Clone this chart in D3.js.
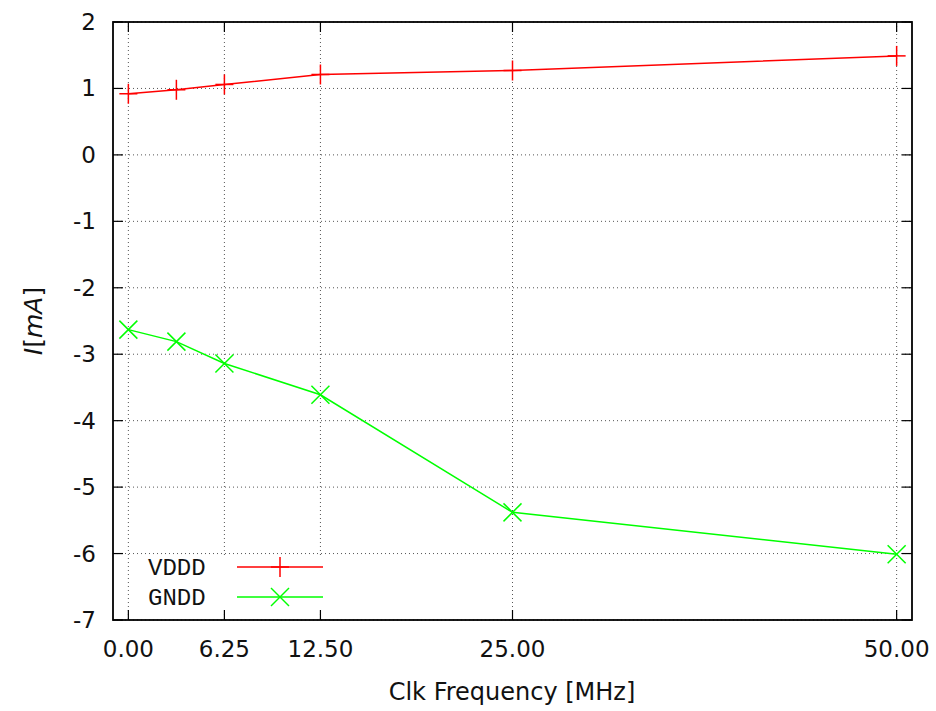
<!DOCTYPE html>
<html>
<head>
<meta charset="utf-8">
<script src="https://cdn.jsdelivr.net/npm/d3@7"></script>
<style>
  body { margin: 0; background: #fff; }
  text { font-family: "DejaVu Sans", sans-serif; fill: #111; }
</style>
</head>
<body>
<script>
// clock frequency in MHz
var freqs = [0, 3.125, 6.25, 12.5, 25, 50];
var vddd = [0.92, 0.98, 1.06, 1.21, 1.27, 1.49];
var gndd = [-2.63, -2.81, -3.14, -3.61, -5.38, -6.01];
var xTickVals = [0, 6.25, 12.5, 25, 50];
var yTickVals = [2, 1, 0, -1, -2, -3, -4, -5, -6, -7];
var seriesNames = ["VDDD", "GNDD"];

var W = 936, H = 711;
var pLeft = 113, pRight = 912, pTop = 22, pBottom = 620;

var svg = d3.select("body").append("svg")
  .attr("width", W)
  .attr("height", H);

var x = d3.scaleLinear().domain([-1, 51]).range([pLeft, pRight]);
var y = d3.scaleLinear().domain([-7, 2]).range([pBottom, pTop]);

// grid
var grid = svg.append("g");
grid.selectAll("line.gx")
    .data(xTickVals)
  .enter().append("line")
    .attr("x1", function(d) { return x(d); })
    .attr("x2", function(d) { return x(d); })
    .attr("y1", pTop).attr("y2", pBottom)
    .style("stroke", "#555").style("stroke-width", 1)
    .style("stroke-dasharray", "1,3");
grid.selectAll("line.gy")
    .data(yTickVals)
  .enter().append("line")
    .attr("x1", pLeft).attr("x2", pRight)
    .attr("y1", function(d) { return y(d); })
    .attr("y2", function(d) { return y(d); })
    .style("stroke", "#555").style("stroke-width", 1)
    .style("stroke-dasharray", "1,3");

// opaque legend box
svg.append("rect")
  .attr("x", 131).attr("y", 555)
  .attr("width", 210).attr("height", 58)
  .style("fill", "#fff");

// ticks (inward, mirrored)
var ticks = svg.append("g").style("stroke", "#000").style("stroke-width", 1.2);
yTickVals.forEach(function(d) {
  ticks.append("line").attr("x1", pLeft).attr("x2", pLeft + 10)
    .attr("y1", y(d)).attr("y2", y(d));
  ticks.append("line").attr("x1", pRight).attr("x2", pRight - 10)
    .attr("y1", y(d)).attr("y2", y(d));
});
xTickVals.forEach(function(d) {
  ticks.append("line").attr("x1", x(d)).attr("x2", x(d))
    .attr("y1", pBottom).attr("y2", pBottom - 10);
  ticks.append("line").attr("x1", x(d)).attr("x2", x(d))
    .attr("y1", pTop).attr("y2", pTop + 10);
});

// frame
svg.append("rect")
  .attr("x", pLeft).attr("y", pTop)
  .attr("width", pRight - pLeft).attr("height", pBottom - pTop)
  .style("fill", "none").style("stroke", "#000").style("stroke-width", 1.8);

// tick labels
svg.selectAll("text.ylab")
    .data(yTickVals)
  .enter().append("text")
    .attr("x", 96)
    .attr("y", function(d) { return y(d); })
    .attr("dy", "0.35em")
    .attr("text-anchor", "end")
    .style("font-size", "23px")
    .text(function(d) { return d; });
svg.selectAll("text.xlab")
    .data(xTickVals)
  .enter().append("text")
    .attr("x", function(d) { return x(d); })
    .attr("y", 657)
    .attr("text-anchor", "middle")
    .style("font-size", "23px")
    .text(function(d) { return d3.format(".2f")(d); });

// axis titles
svg.append("text")
  .attr("x", 512).attr("y", 700)
  .attr("text-anchor", "middle")
  .style("font-size", "24px")
  .text("Clk Frequency [MHz]");
var yt = svg.append("text")
  .attr("transform", "translate(42,321) rotate(-90)")
  .attr("text-anchor", "middle")
  .style("font-size", "25px");
yt.append("tspan").style("font-style", "italic").text("I");
yt.append("tspan").text("[");
yt.append("tspan").style("font-style", "italic").text("mA");
yt.append("tspan").text("]");

// series
var colors = ["#ff0000", "#00ff00"];
var allSeries = [vddd, gndd];
var line = d3.line()
  .x(function(d) { return x(d[0]); })
  .y(function(d) { return y(d[1]); });

function plus(g, cx, cy, c) {
  g.append("line").attr("x1", cx - 9).attr("x2", cx + 9).attr("y1", cy).attr("y2", cy)
    .style("stroke", c).style("stroke-width", 1.5);
  g.append("line").attr("x1", cx).attr("x2", cx).attr("y1", cy - 10).attr("y2", cy + 10)
    .style("stroke", c).style("stroke-width", 1.5);
}
function cross(g, cx, cy, c) {
  g.append("line").attr("x1", cx - 9).attr("x2", cx + 9).attr("y1", cy - 9).attr("y2", cy + 9)
    .style("stroke", c).style("stroke-width", 1.5);
  g.append("line").attr("x1", cx - 9).attr("x2", cx + 9).attr("y1", cy + 9).attr("y2", cy - 9)
    .style("stroke", c).style("stroke-width", 1.5);
}
var markers = [plus, cross];

allSeries.forEach(function(vals, i) {
  var pts = freqs.map(function(f, j) { return [f, vals[j]]; });
  var g = svg.append("g");
  g.append("path")
    .attr("d", line(pts))
    .style("fill", "none")
    .style("stroke", colors[i])
    .style("stroke-width", 1.5);
  pts.forEach(function(p) { markers[i](g, x(p[0]), y(p[1]), colors[i]); });

  // legend entry
  var ly = 567 + i * 30;
  svg.append("text")
    .attr("x", 148).attr("y", ly)
    .attr("dy", "0.35em")
    .style("font-family", "'Liberation Mono', 'DejaVu Sans Mono', monospace")
    .style("font-size", "24px")
    .text(seriesNames[i]);
  svg.append("line")
    .attr("x1", 237).attr("x2", 323).attr("y1", ly).attr("y2", ly)
    .style("stroke", colors[i]).style("stroke-width", 1.5);
  markers[i](svg, 280, ly, colors[i]);
});
</script>
</body>
</html>
